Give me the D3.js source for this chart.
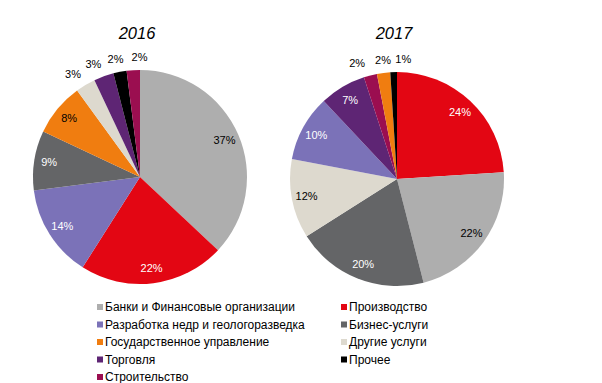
<!DOCTYPE html>
<html><head><meta charset="utf-8">
<script src="https://cdn.jsdelivr.net/npm/d3@7"></script>
<style>body{margin:0;background:#fff}svg{display:block}text{font-family:"Liberation Sans",Arial,sans-serif}</style>
</head><body><svg id="c" width="602" height="383"></svg>
<script>
const categories = ["Банки и Финансовые организации","Производство","Разработка  недр и геологоразведка","Бизнес-услуги","Государственное  управление","Другие услуги","Торговля","Прочее","Строительство"];
const colors = ["#AEAEAE","#E30613","#7B72B8","#646567","#F07D10","#DDD9CE","#5E2574","#000000","#9B0E50"];
const labelColors = ["#000","#fff","#fff","#fff","#000","#000","#fff","#000","#000"];
const years = ["2016","2017"];
// slice order clockwise from 12 o'clock (category index)
const order2016 = [0,1,2,3,4,5,6,7,8];
const values2016 = [37,22,14,9,8,3,3,2,2];
const order2017 = [1,0,3,5,2,6,8,4,7];
const values2017 = [24,22,20,12,10,7,2,2,1];
// horizontal nudges for outside labels (px)
const nudge2016 = [0,0,0,0,0,-6,-6,-2,7];
const nudge2017 = [0,0,0,0,0,0,-10,1,10];

const svg = d3.select("#c");
const pies = [
  {year: years[0], order: order2016, values: values2016, nudge: nudge2016, cx: 140, cy: 177},
  {year: years[1], order: order2017, values: values2017, nudge: nudge2017, cx: 397, cy: 179}
];
const R = 107;
const arc = d3.arc().innerRadius(0).outerRadius(R);
const inArc = d3.arc().innerRadius(R*0.86).outerRadius(R*0.86);
const outArc = d3.arc().innerRadius(R*1.12).outerRadius(R*1.12);

pies.forEach(p => {
  const data = p.values.map((v,i) => ({v, c: p.order[i], i}));
  const arcs = d3.pie().sort(null).value(d => d.v)(data);
  const g = svg.append("g").attr("transform", `translate(${p.cx},${p.cy})`);
  g.selectAll("path").data(arcs).join("path").attr("d", arc).attr("fill", d => colors[d.data.c]);
  g.selectAll("text.l").data(arcs).join("text").attr("class","l")
    .attr("x", d => { const inside = d.data.v >= 5; const c = (inside ? inArc : outArc).centroid(d); return c[0] + (inside ? 0 : p.nudge[d.data.i]); })
    .attr("y", d => { const inside = d.data.v >= 5; return (inside ? inArc : outArc).centroid(d)[1]; })
    .attr("dy", "0.35em").attr("text-anchor","middle").attr("font-size", 11)
    .attr("fill", d => d.data.v >= 5 ? labelColors[d.data.c] : "#000")
    .text(d => d.data.v + "%");
  svg.append("text").attr("x", p.cx - 3).attr("y", 39).attr("text-anchor","middle")
    .attr("font-size", 16.5).attr("font-style","italic").text(p.year);
});

// legend
const leg = svg.append("g");
const colX = [97, 341], rowY0 = 307, rowH = 17.5;
categories.forEach((name, i) => {
  const col = i % 2, row = Math.floor(i / 2);
  const x = colX[col], y = rowY0 + row * rowH;
  leg.append("rect").attr("x", x).attr("y", y - 3).attr("width", 6).attr("height", 6).attr("fill", colors[i]);
  leg.append("text").attr("x", x + 8).attr("y", y).attr("dy","0.36em").attr("font-size", 12)
    .attr("fill","#000").text(name);
});
</script></body></html>
